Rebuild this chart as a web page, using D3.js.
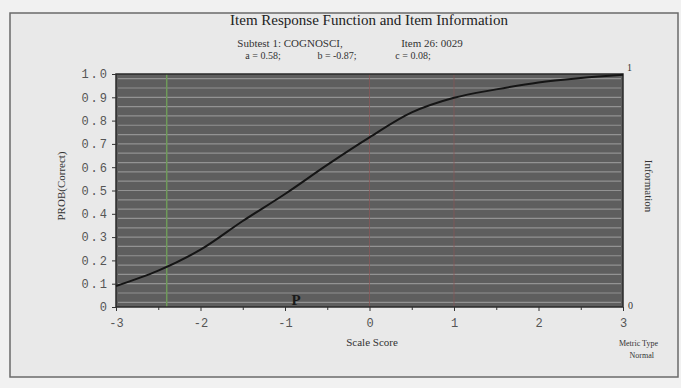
<!DOCTYPE html>
<html>
<head>
<meta charset="utf-8">
<script src="https://cdn.jsdelivr.net/npm/d3@7"></script>
<style>
  body { margin: 0; background: #f1f1f1; }
  svg { display: block; }
  .serif { font-family: "Liberation Serif", "DejaVu Serif", serif; fill: #333; }
  .mono { font-family: "Liberation Mono", "DejaVu Sans Mono", monospace; fill: #555; }
</style>
</head>
<body>
<div id="chart"></div>
<script>
// values
var theta = [-3, -2.5, -2, -1.5, -1, -0.5, 0, 0.5, 1, 1.5, 2, 2.5, 3];
var probCorrect = [0.09, 0.156, 0.246, 0.369, 0.485, 0.61, 0.728, 0.835, 0.898, 0.934, 0.964, 0.983, 0.997];
var xTicks = [-3, -2, -1, 0, 1, 2, 3];
var xMinor = [-2.5, -1.5, -0.5, 0.5, 1.5, 2.5];
var yTicks = [0, 0.1, 0.2, 0.3, 0.4, 0.5, 0.6, 0.7, 0.8, 0.9, 1.0];
var greenLines = [-2.4];
var redLines = [0, 1];
var bParam = -0.87;
var streaks = d3.range(0.02, 1, 0.04);

var width = 681, height = 388;
var margin = {top: 74, right: 58, bottom: 81, left: 116};

var svg = d3.select("#chart").append("svg")
    .attr("width", width)
    .attr("height", height);

// outer frame
svg.append("rect")
    .attr("x", 10).attr("y", 13)
    .attr("width", 668).attr("height", 364)
    .attr("fill", "#e9e9e9")
    .attr("stroke", "#6a6a6a")
    .attr("stroke-width", 1.5);

var x = d3.scaleLinear().domain([-3, 3]).range([margin.left, width - margin.right]);
var y = d3.scaleLinear().domain([0, 1]).range([height - margin.bottom, margin.top]);

// plot background
svg.append("rect")
    .attr("x", x(-3)).attr("y", y(1))
    .attr("width", x(3) - x(-3)).attr("height", y(0) - y(1))
    .attr("fill", "#5e5e5e");

// light horizontal streaks
svg.selectAll(".streak")
    .data(streaks)
  .enter().append("line")
    .attr("class", "streak")
    .attr("x1", x(-3) + 2).attr("x2", x(3) - 2)
    .attr("y1", function(d) { return y(d); })
    .attr("y2", function(d) { return y(d); })
    .attr("stroke", "#a9a9a9")
    .attr("stroke-opacity", 0.7)
    .attr("stroke-width", 1.2);

svg.selectAll(".green")
    .data(greenLines)
  .enter().append("line")
    .attr("x1", function(d) { return x(d); }).attr("x2", function(d) { return x(d); })
    .attr("y1", y(1)).attr("y2", y(0))
    .attr("stroke", "#6f9a5a")
    .attr("stroke-width", 1.5);

svg.selectAll(".red")
    .data(redLines)
  .enter().append("line")
    .attr("x1", function(d) { return x(d); }).attr("x2", function(d) { return x(d); })
    .attr("y1", y(1)).attr("y2", y(0))
    .attr("stroke", "#8a5656")
    .attr("stroke-opacity", 0.7)
    .attr("stroke-width", 1);

// plot border
svg.append("rect")
    .attr("x", x(-3)).attr("y", y(1))
    .attr("width", x(3) - x(-3)).attr("height", y(0) - y(1))
    .attr("fill", "none")
    .attr("stroke", "#2a2a2a")
    .attr("stroke-width", 1.5);

// item response curve
var line = d3.line()
    .x(function(d, i) { return x(theta[i]); })
    .y(function(d) { return y(d); })
    .curve(d3.curveCatmullRom);

svg.append("path")
    .datum(probCorrect)
    .attr("d", line)
    .attr("fill", "none")
    .attr("stroke", "#151515")
    .attr("stroke-width", 2);

// b marker
svg.append("text")
    .attr("class", "serif")
    .attr("x", x(bParam)).attr("y", y(0) - 2)
    .attr("text-anchor", "middle")
    .style("font-size", "15px")
    .style("font-weight", "bold")
    .style("fill", "#1a1a1a")
    .text("P");

// x axis
var xAxis = d3.axisBottom(x).tickValues(xTicks).tickSize(4)
    .tickFormat(function(d) { return d; });
var gx = svg.append("g")
    .attr("transform", "translate(0," + y(0) + ")")
    .call(xAxis);
gx.select(".domain").remove();
gx.selectAll("line").attr("stroke", "#333");
gx.selectAll("text")
    .attr("class", "mono")
    .attr("dy", "1.1em")
    .style("font-size", "12px")
    .attr("fill", null);

svg.append("g")
    .attr("transform", "translate(0," + y(0) + ")")
    .call(d3.axisBottom(x).tickValues(xMinor).tickSize(3).tickFormat(""))
  .call(function(g) { g.select(".domain").remove(); })
  .selectAll("line").attr("stroke", "#333");

// y axis
var yAxis = d3.axisLeft(y).tickValues(yTicks).tickSize(4)
    .tickFormat(function(d) { return d === 0 ? "0" : d3.format(".1f")(d); });
var gy = svg.append("g")
    .attr("transform", "translate(" + x(-3) + ",0)")
    .call(yAxis);
gy.select(".domain").remove();
gy.selectAll("line").attr("stroke", "#333");
gy.selectAll("text")
    .attr("class", "mono")
    .attr("x", -7)
    .style("font-size", "12px")
    .style("letter-spacing", "2px")
    .attr("fill", null);

// right axis end labels
svg.append("text").attr("class", "serif")
    .attr("x", x(3) + 4).attr("y", y(1) - 3)
    .style("font-size", "10px").text("1");
svg.append("text").attr("class", "serif")
    .attr("x", x(3) + 5).attr("y", y(0) + 2)
    .style("font-size", "10px").text("0");

// titles
svg.append("text").attr("class", "serif")
    .attr("x", 369).attr("y", 25)
    .attr("text-anchor", "middle")
    .style("font-size", "15px")
    .style("fill", "#222")
    .text("Item Response Function and Item Information");

svg.append("text").attr("class", "serif")
    .attr("x", 290).attr("y", 47)
    .attr("text-anchor", "middle")
    .style("font-size", "11px")
    .text("Subtest 1: COGNOSCI,");
svg.append("text").attr("class", "serif")
    .attr("x", 432).attr("y", 47)
    .attr("text-anchor", "middle")
    .style("font-size", "11px")
    .text("Item 26: 0029");

var params = [["a = 0.58;", 263], ["b = -0.87;", 337], ["c = 0.08;", 413]];
svg.selectAll(".param")
    .data(params)
  .enter().append("text")
    .attr("class", "serif")
    .attr("x", function(d) { return d[1]; }).attr("y", 59)
    .attr("text-anchor", "middle")
    .style("font-size", "10px")
    .style("fill", "#333")
    .text(function(d) { return d[0]; });

svg.append("text").attr("class", "serif")
    .attr("transform", "translate(65," + 186 + ") rotate(-90)")
    .attr("text-anchor", "middle")
    .style("font-size", "11px")
    .text("PROB(Correct)");

svg.append("text").attr("class", "serif")
    .attr("transform", "translate(645," + 186 + ") rotate(90)")
    .attr("text-anchor", "middle")
    .style("font-size", "11px")
    .text("Information");

svg.append("text").attr("class", "serif")
    .attr("x", 372).attr("y", 346)
    .attr("text-anchor", "middle")
    .style("font-size", "11px")
    .text("Scale Score");

svg.append("text").attr("class", "serif")
    .attr("x", 658).attr("y", 346)
    .attr("text-anchor", "end")
    .style("font-size", "8px")
    .text("Metric Type");
svg.append("text").attr("class", "serif")
    .attr("x", 654).attr("y", 358)
    .attr("text-anchor", "end")
    .style("font-size", "8px")
    .text("Normal");
</script>
</body>
</html>
